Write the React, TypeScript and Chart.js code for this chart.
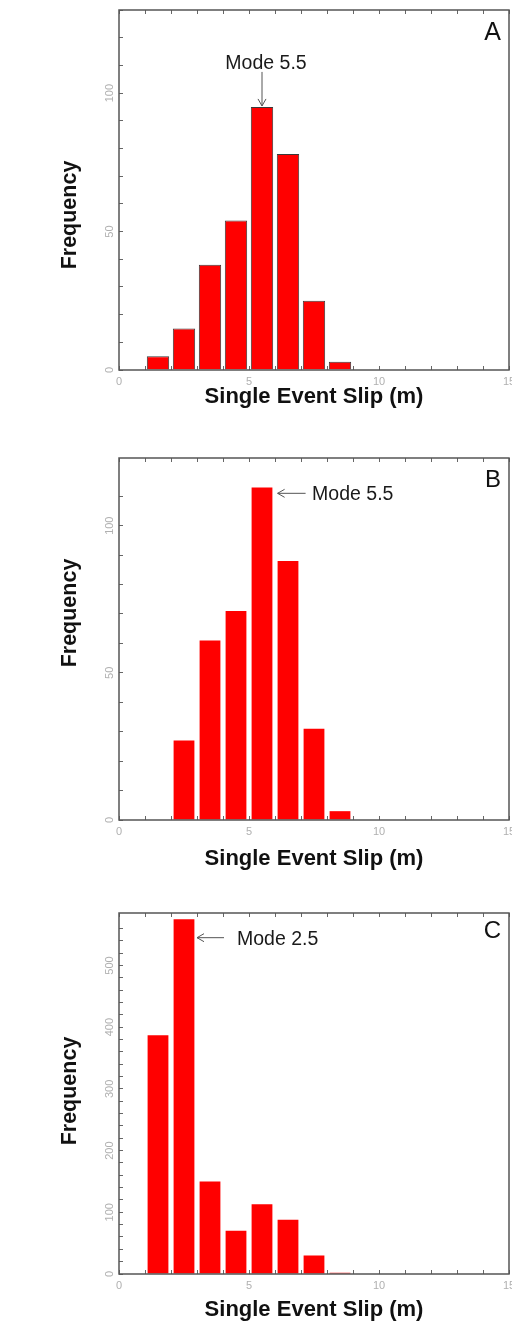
import React, { useEffect, useRef } from 'react';
import { Chart, registerables } from 'chart.js';

Chart.register(...registerables);

// ---- data ----
const binCentersA = [1.5, 2.5, 3.5, 4.5, 5.5, 6.5, 7.5, 8.5];
const frequencyA = [5, 15, 38, 54, 95, 78, 25, 3];
const binCentersB = [2.5, 3.5, 4.5, 5.5, 6.5, 7.5, 8.5];
const frequencyB = [27, 61, 71, 113, 88, 31, 3];
const binCentersC = [1.5, 2.5, 3.5, 4.5, 5.5, 6.5, 7.5, 8.5];
const frequencyC = [387, 575, 150, 70, 113, 88, 30, 2];

const xTickLabels = [0, 5, 10, 15];
const yTickLabelsA = [0, 50, 100];
const yTickLabelsB = [0, 50, 100];
const yTickLabelsC = [0, 100, 200, 300, 400, 500];

const panelLetters = ['A', 'B', 'C'];
const modeLabels = ['Mode 5.5', 'Mode 5.5', 'Mode 2.5'];
const modeSlip = [5.5, 5.5, 2.5];
const xTitle = 'Single Event Slip (m)';
const yTitle = 'Frequency';

const FONT = "'Liberation Sans', Arial, Helvetica, sans-serif";

type Panel = {
  top: number; height: number; padTop: number; xAxisH: number; titlePad: number;
  bins: number[]; freq: number[]; yMax: number; yStep: number; yLabels: number[];
  barPct: number; border: boolean;
  letter: string; letterDy: number; letterSize: number; yTitleDy: number;
  mode: string;
  arrow: { dir: 'down' | 'left'; x: number; y: number; len: number; gap: number; dx: number };
};

const panels: Panel[] = [
  {
    top: 0, height: 440, padTop: 10, xAxisH: 70, titlePad: 32,
    bins: binCentersA, freq: frequencyA, yMax: 130, yStep: 10, yLabels: yTickLabelsA,
    barPct: 0.86, border: true,
    letter: panelLetters[0], letterDy: 29.5, letterSize: 25, yTitleDy: 25,
    mode: modeLabels[0],
    arrow: { dir: 'down', x: modeSlip[0], y: 95, len: 34, gap: 3, dx: 4 },
  },
  {
    top: 440, height: 445, padTop: 18, xAxisH: 65, titlePad: 15,
    bins: binCentersB, freq: frequencyB, yMax: 123, yStep: 10, yLabels: yTickLabelsB,
    barPct: 0.8, border: false,
    letter: panelLetters[1], letterDy: 29, letterSize: 24, yTitleDy: -26,
    mode: modeLabels[1],
    arrow: { dir: 'left', x: 6.1, y: 111, len: 28, gap: 6.5, dx: 0 },
  },
  {
    top: 885, height: 454, padTop: 28, xAxisH: 65, titlePad: 18,
    bins: binCentersC, freq: frequencyC, yMax: 585, yStep: 20, yLabels: yTickLabelsC,
    barPct: 0.8, border: false,
    letter: panelLetters[2], letterDy: 25, letterSize: 24, yTitleDy: -2.5,
    mode: modeLabels[2],
    arrow: { dir: 'left', x: 3.0, y: 545, len: 27, gap: 13, dx: 0 },
  },
];

function decorPlugin(p: Panel) {
  return {
    id: 'panelDecor',
    afterDatasetsDraw(chart: any) {
      const { ctx, chartArea, scales } = chart;
      const xs = scales.x, ys = scales.y;
      ctx.save();
      // frame
      ctx.strokeStyle = '#555';
      ctx.lineWidth = 1.5;
      ctx.strokeRect(chartArea.left, chartArea.top, chartArea.right - chartArea.left, chartArea.bottom - chartArea.top);
      // panel letter
      ctx.fillStyle = '#111';
      ctx.font = `${p.letterSize}px ${FONT}`;
      ctx.textAlign = 'right';
      ctx.textBaseline = 'alphabetic';
      ctx.fillText(p.letter, chartArea.right - 8, chartArea.top + p.letterDy);
      // y title
      ctx.save();
      ctx.translate(70.5, (chartArea.top + chartArea.bottom) / 2 + p.yTitleDy);
      ctx.rotate(-Math.PI / 2);
      ctx.font = `bold 21.5px ${FONT}`;
      ctx.textAlign = 'center';
      ctx.textBaseline = 'middle';
      ctx.fillStyle = '#111';
      ctx.fillText(yTitle, 0, 0);
      ctx.restore();
      // mode arrow + label
      const a = p.arrow;
      const tx = xs.getPixelForValue(a.x);
      const ty = ys.getPixelForValue(a.y) - (a.dir === 'down' ? 1 : 0);
      ctx.strokeStyle = '#555';
      ctx.lineWidth = 1;
      ctx.beginPath();
      if (a.dir === 'down') {
        ctx.moveTo(tx, ty - a.len); ctx.lineTo(tx, ty);
        ctx.moveTo(tx - 4, ty - 7); ctx.lineTo(tx, ty); ctx.lineTo(tx + 4, ty - 7);
      } else {
        ctx.moveTo(tx + a.len, ty); ctx.lineTo(tx, ty);
        ctx.moveTo(tx + 7, ty - 4); ctx.lineTo(tx, ty); ctx.lineTo(tx + 7, ty + 4);
      }
      ctx.stroke();
      ctx.font = `19.5px ${FONT}`;
      ctx.fillStyle = '#1a1a1a';
      ctx.textBaseline = 'alphabetic';
      if (a.dir === 'down') {
        ctx.textAlign = 'center';
        ctx.fillText(p.mode, tx + a.dx, ty - a.len - a.gap);
      } else {
        ctx.textAlign = 'left';
        ctx.fillText(p.mode, tx + a.len + a.gap, ty + 7);
      }
      ctx.restore();
    },
  };
}

function makeConfig(p: Panel): any {
  const filterStep = (step: number) => (scale: any) => {
    scale.ticks = scale.ticks.filter((t: any) => Math.abs(t.value / step - Math.round(t.value / step)) < 1e-6);
  };
  return {
    type: 'bar',
    data: {
      datasets: [{
        data: p.bins.map((b, i) => ({ x: b, y: p.freq[i] })),
        xAxisID: 'x',
        yAxisID: 'y',
        backgroundColor: '#ff0000',
        borderColor: p.border ? '#3a3a3a' : '#ff0000',
        borderWidth: p.border ? 1 : 0,
        categoryPercentage: 1,
        barPercentage: p.barPct,
      }],
    },
    options: {
      responsive: false,
      animation: false,
      layout: { padding: { left: 0, right: 3, top: p.padTop, bottom: 0 } },
      plugins: { legend: { display: false }, tooltip: { enabled: false } },
      scales: {
        x: {
          type: 'linear', position: 'bottom', min: 0, max: 15, offset: false,
          grid: { display: true, drawOnChartArea: false, drawTicks: true, tickLength: -4, color: '#666', offset: false },
          border: { display: false },
          ticks: {
            stepSize: 1, autoSkip: false, maxRotation: 0, minRotation: 0, padding: 9.4,
            color: '#b0b0b0', font: { family: FONT, size: 11 },
            callback: (v: number) => (xTickLabels.includes(v) ? String(v) : ''),
          },
          title: {
            display: true, text: xTitle, color: '#111',
            font: { family: FONT, size: 22, weight: 'bold', lineHeight: 1 },
            padding: { top: 0, bottom: p.titlePad },
          },
          afterBuildTicks: filterStep(1),
          afterFit: (s: any) => { s.height = p.xAxisH; s.paddingLeft = 0; s.paddingRight = 0; },
        },
        xTop: {
          type: 'linear', position: 'top', min: 0, max: 15, offset: false,
          grid: { display: true, drawOnChartArea: false, drawTicks: true, tickLength: -4, color: '#666', offset: false },
          border: { display: false },
          ticks: { display: false, stepSize: 1, autoSkip: false },
          afterBuildTicks: filterStep(1),
          afterFit: (s: any) => { s.height = 0; s.paddingLeft = 0; s.paddingRight = 0; },
        },
        y: {
          type: 'linear', position: 'left', min: 0, max: p.yMax,
          grid: { display: true, drawOnChartArea: false, drawTicks: true, tickLength: -4, color: '#666' },
          border: { display: false },
          ticks: {
            stepSize: p.yStep, autoSkip: false, minRotation: 90, maxRotation: 90,
            crossAlign: 'center', padding: 3.8,
            color: '#b0b0b0', font: { family: FONT, size: 11 },
            callback: (v: number) => (p.yLabels.includes(v) ? String(v) : ''),
          },
          title: { display: false },
          afterBuildTicks: filterStep(p.yStep),
          afterFit: (s: any) => { s.width = 119; s.paddingTop = 0; s.paddingBottom = 0; },
        },
      },
    },
    plugins: [decorPlugin(p)],
  };
}

function HistogramPanel({ p }: { p: Panel }) {
  const ref = useRef<HTMLCanvasElement>(null);
  useEffect(() => {
    if (!ref.current) return;
    const chart = new Chart(ref.current, makeConfig(p));
    return () => chart.destroy();
  }, [p]);
  return (
    <canvas
      ref={ref}
      width={512}
      height={p.height}
      style={{ position: 'absolute', left: 0, top: p.top, width: 512, height: p.height, display: 'block' }}
    />
  );
}

export default function App() {
  return (
    <div style={{ position: 'absolute', left: 0, top: 0, width: 512, height: 1339, background: '#fff', overflow: 'hidden' }}>
      {panels.map((p, i) => (
        <HistogramPanel key={i} p={p} />
      ))}
    </div>
  );
}
